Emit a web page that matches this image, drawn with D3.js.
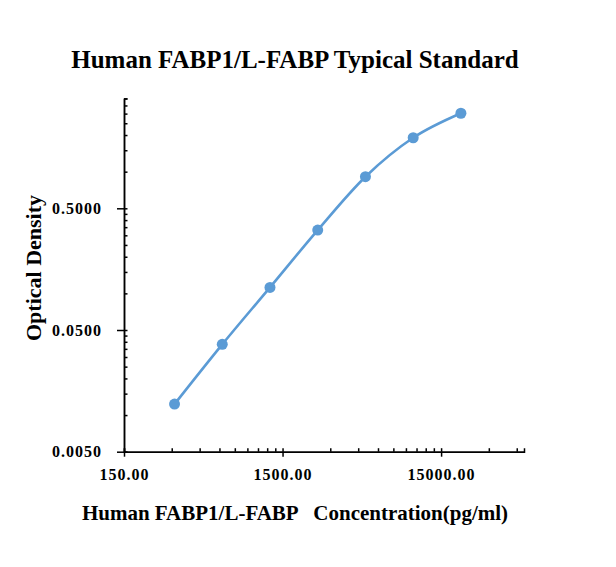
<!DOCTYPE html>
<html>
<head>
<meta charset="utf-8">
<script src="https://cdn.jsdelivr.net/npm/d3@7"></script>
<style>
  body { margin: 0; background: #fff; }
  svg { display: block; }
  text { font-family: "Liberation Serif", "Times New Roman", serif; font-weight: bold; fill: #000; }
</style>
</head>
<body>
<svg id="chart" width="616" height="567"></svg>
<script>
// standard curve readings
var concentrations = [312.5, 625, 1250, 2500, 5000, 10000, 20000];
var densities = [0.0123, 0.0381, 0.112, 0.331, 0.909, 1.90, 3.02];

var xTicks = [150, 1500, 15000];
var yTicks = [0.005, 0.05, 0.5];
var xDomain = [150, 50000];
var yDomain = [0.005, 4];

var titleText = "Human FABP1/L-FABP Typical Standard";
var xTitleText = "Human FABP1/L-FABP   Concentration(pg/ml)";
var yTitleText = "Optical Density";

var blue = "#5b9bd5";
var svg = d3.select('#chart');

var x = d3.scaleLog().domain(xDomain).range([124, 524]);
var y = d3.scaleLog().domain(yDomain).range([451.7, 98.4]);

// minor ticks: every multiple of the major unit inside each decade
function minors(majors, domain) {
    var out = [];
    majors.forEach(function(m) {
        for (var k = 1; k <= 9; k++) {
            var v = m * k;
            if (v >= domain[0] && v <= domain[1] * 1.0001) out.push(v);
        }
    });
    return out;
}
var xMinor = minors(xTicks, xDomain);
var yMinor = minors(yTicks, yDomain);

// inside ticks (major + minor)
svg.append('g').attr('class', 'axis')
    .attr('transform', 'translate(124,0)')
    .call(d3.axisLeft(y).tickValues(yMinor).tickSize(-3.5).tickFormat(''));
svg.append('g').attr('class', 'axis')
    .attr('transform', 'translate(0,451.7)')
    .call(d3.axisBottom(x).tickValues(xMinor).tickSize(-3.5).tickFormat(''));

// outside major ticks with labels
svg.append('g').attr('class', 'axis')
    .attr('transform', 'translate(124,0)')
    .call(d3.axisLeft(y).tickValues(yTicks).tickSize(7).tickSizeOuter(0)
        .tickPadding(15).tickFormat(d3.format('.4f')));
svg.append('g').attr('class', 'axis')
    .attr('transform', 'translate(0,451.7)')
    .call(d3.axisBottom(x).tickValues(xTicks).tickSize(5).tickSizeOuter(0)
        .tickPadding(12).tickFormat(d3.format('.2f')));

svg.selectAll('.axis path').attr('stroke', '#000').attr('stroke-width', 1.5);
svg.selectAll('.axis line').attr('stroke', '#000').attr('stroke-width', 1.5);
svg.selectAll('.axis text')
    .attr('font-size', null)
    .style('font-family', '"Liberation Serif", "Times New Roman", serif')
    .style('font-weight', 'bold')
    .style('font-size', '16px')
    .style('letter-spacing', '1px')
    .attr('fill', '#000');

// series
var pts = concentrations.map(function(c, i) { return [x(c), y(densities[i])]; });
var line = d3.line().curve(d3.curveCardinal.tension(0));
svg.append('path')
    .attr('d', line(pts))
    .attr('fill', 'none')
    .attr('stroke', blue)
    .attr('stroke-width', 2.6);
svg.selectAll('circle.pt').data(pts).enter().append('circle')
    .attr('class', 'pt')
    .attr('cx', function(d) { return d[0]; })
    .attr('cy', function(d) { return d[1]; })
    .attr('r', 5.5)
    .attr('fill', blue);

// titles
svg.append('text')
    .attr('x', 295).attr('y', 68)
    .attr('text-anchor', 'middle')
    .style('font-size', '25px')
    .text(titleText);
svg.append('text')
    .attr('x', 295).attr('y', 520)
    .attr('text-anchor', 'middle')
    .attr('xml:space', 'preserve')
    .style('white-space', 'pre')
    .style('font-size', '21px')
    .text(xTitleText);
svg.append('text')
    .attr('transform', 'translate(41,268) rotate(-90)')
    .attr('text-anchor', 'middle')
    .style('font-size', '22px')
    .text(yTitleText);
</script>
</body>
</html>
